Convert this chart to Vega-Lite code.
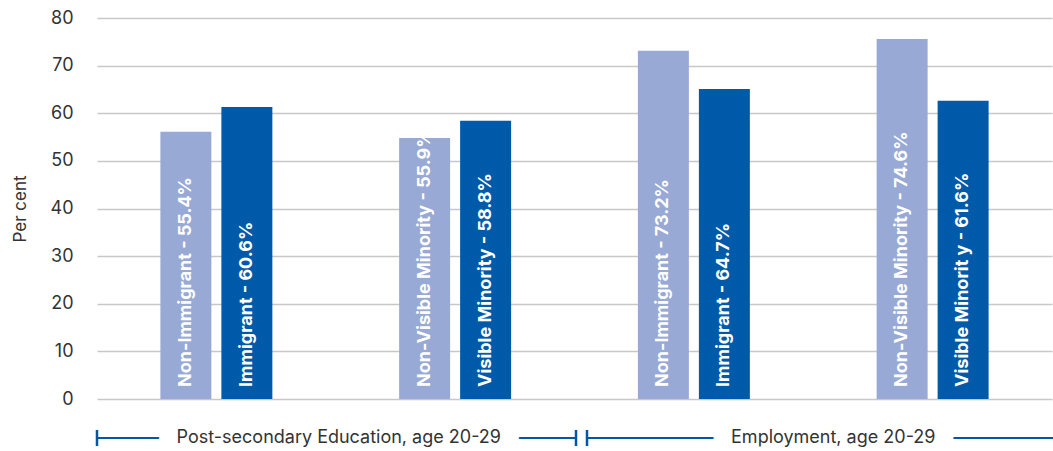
{
  "$schema": "https://vega.github.io/schema/vega-lite/v6.json",
  "padding": {"left": 11, "top": 9, "right": 0, "bottom": 0},
  "background": "white",
  "config": {"view": {"stroke": null}, "font": "Inter"},
  "spacing": 31,
  "bounds": "flush",
  "datasets": {
    "bars": [
      {"category": "Education – Immigrant status", "population": "Non-member", "value": 56.1, "label": "Non-Immigrant - 55.4%"},
      {"category": "Education – Immigrant status", "population": "Member", "value": 61.3, "label": "Immigrant - 60.6%"},
      {"category": "Education – Visible minority status", "population": "Non-member", "value": 54.8, "label": "Non-Visible Minority - 55.9%"},
      {"category": "Education – Visible minority status", "population": "Member", "value": 58.4, "label": "Visible Minority - 58.8%"},
      {"category": "Employment – Immigrant status", "population": "Non-member", "value": 73.1, "label": "Non-Immigrant - 73.2%"},
      {"category": "Employment – Immigrant status", "population": "Member", "value": 65.1, "label": "Immigrant - 64.7%"},
      {"category": "Employment – Visible minority status", "population": "Non-member", "value": 75.6, "label": "Non-Visible Minority - 74.6%"},
      {"category": "Employment – Visible minority status", "population": "Member", "value": 62.6, "label": "Visible Minorit y - 61.6%"}
    ],
    "groups": [
      {"group": "Post-secondary Education, age 20-29", "start": 0, "end": 2},
      {"group": "Employment, age 20-29", "start": 2, "end": 4}
    ]
  },
  "vconcat": [
    {
      "width": 955,
      "height": 381,
      "data": {"name": "bars"},
      "encoding": {
        "x": {"field": "category", "type": "nominal", "sort": null, "axis": null,
              "scale": {"paddingInner": 0.531, "paddingOuter": 0.2655}},
        "xOffset": {"field": "population", "type": "nominal", "sort": ["Non-member", "Member"],
                    "scale": {"paddingInner": 0.164, "paddingOuter": 0}}
      },
      "layer": [
        {
          "mark": {"type": "bar"},
          "encoding": {
            "y": {"field": "value", "type": "quantitative",
                  "scale": {"domain": [0, 80], "nice": false},
                  "axis": {"title": "Per cent", "titleFont": "Inter", "titleFontSize": 17, "titleFontWeight": "normal",
                           "titleColor": "#333333", "titlePadding": 21,
                           "labelFont": "Inter", "labelFontSize": 18, "labelColor": "#333333", "labelPadding": 24,
                           "ticks": false, "domain": false,
                           "values": [0, 10, 20, 30, 40, 50, 60, 70, 80],
                           "gridColor": "#c8c8c8", "gridWidth": 1.3}},
            "color": {"field": "population", "type": "nominal", "sort": ["Non-member", "Member"],
                      "scale": {"range": ["#98A9D5", "#005AAA"]}, "legend": null}
          }
        },
        {
          "mark": {"type": "text", "angle": 270, "align": "left", "baseline": "middle", "dx": 12,
                   "font": "Inter", "fontWeight": "bold", "fontSize": 18, "color": "white"},
          "encoding": {
            "y": {"datum": 0, "type": "quantitative"},
            "text": {"field": "label", "type": "nominal"}
          }
        }
      ]
    },
    {
      "width": 955,
      "height": 16,
      "data": {"name": "groups"},
      "layer": [
        {
          "mark": {"type": "rule", "color": "#0057A8", "strokeWidth": 2,
                   "xOffset": {"expr": "datum.start > 0 ? 12.5 : 0"}, "x2Offset": 1.5},
          "encoding": {
            "x": {"field": "start", "type": "quantitative", "scale": {"domain": [0, 4], "nice": false, "zero": false}, "axis": null},
            "x2": {"field": "end"},
            "y": {"datum": 0, "type": "quantitative", "scale": {"domain": [-1, 1], "nice": false}, "axis": null}
          }
        },
        {
          "transform": [{"fold": ["start", "end"], "as": ["side", "edge"]}],
          "mark": {"type": "rule", "color": "#0057A8", "strokeWidth": 2.5,
                   "xOffset": {"expr": "datum.edge >= 4 ? 12 : (datum.side == 'start' && datum.edge > 0 ? 12.5 : (datum.side == 'end' ? 1.5 : 0))"}},
          "encoding": {
            "x": {"field": "edge", "type": "quantitative"},
            "y": {"datum": -1, "type": "quantitative"},
            "y2": {"datum": 1}
          }
        },
        {
          "transform": [{"fold": ["start", "end"], "as": ["side", "edge"]}],
          "mark": {"type": "text", "font": "Inter", "fontSize": 18, "baseline": "middle", "align": "center",
                   "color": "white", "stroke": "white", "strokeWidth": 38, "strokeJoin": "round",
                   "xOffset": {"expr": "datum.group == 'Employment, age 20-29' ? 20 : 3"}},
          "encoding": {
            "x": {"aggregate": "mean", "field": "edge", "type": "quantitative"},
            "y": {"datum": 0, "type": "quantitative"},
            "text": {"field": "group", "type": "nominal"}
          }
        },
        {
          "transform": [{"fold": ["start", "end"], "as": ["side", "edge"]}],
          "mark": {"type": "text", "font": "Inter", "fontSize": 18, "baseline": "middle", "align": "center",
                   "color": "#333333",
                   "xOffset": {"expr": "datum.group == 'Employment, age 20-29' ? 20 : 3"}},
          "encoding": {
            "x": {"aggregate": "mean", "field": "edge", "type": "quantitative"},
            "y": {"datum": 0, "type": "quantitative"},
            "text": {"field": "group", "type": "nominal"}
          }
        }
      ]
    }
  ]
}
